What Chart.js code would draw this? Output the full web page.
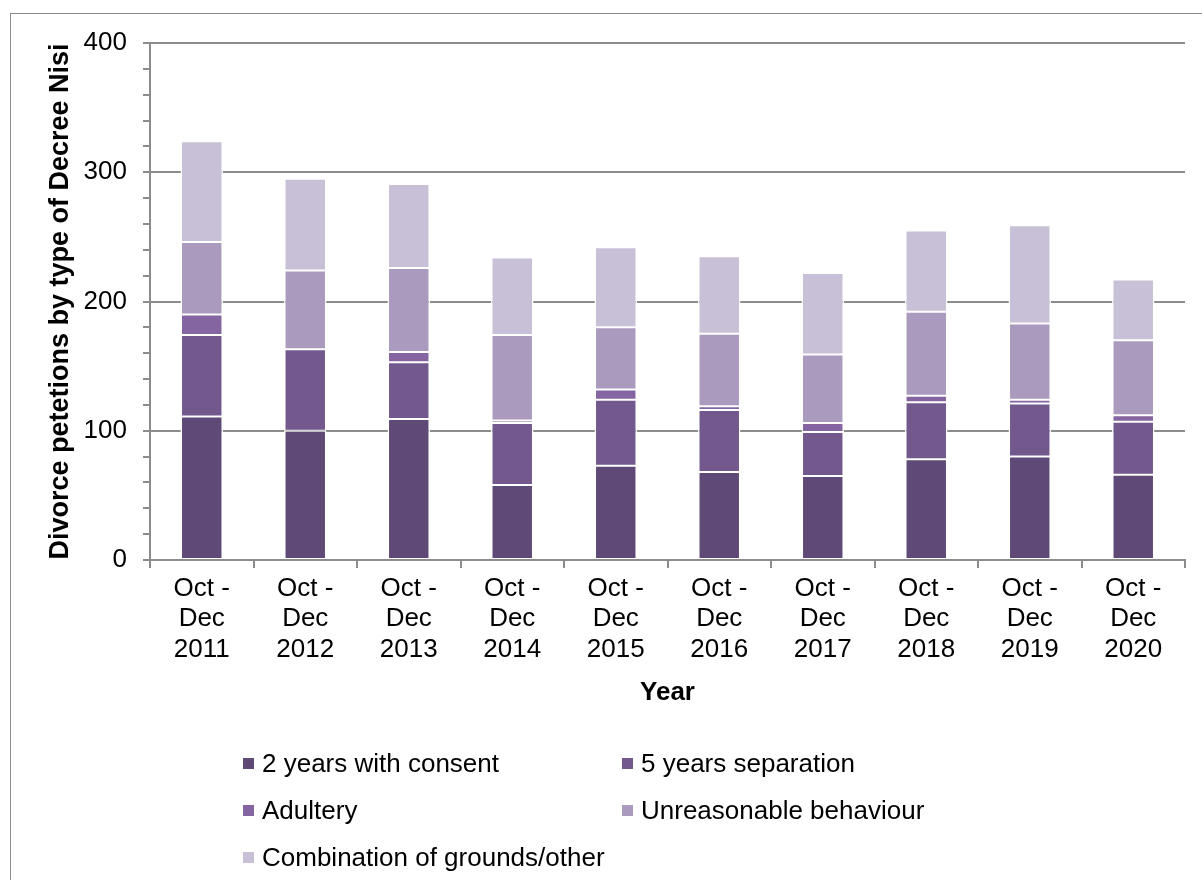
<!DOCTYPE html>
<html>
<head>
<meta charset="utf-8">
<script src="https://cdn.jsdelivr.net/npm/chart.js@4.4.0/dist/chart.umd.min.js"></script>
<style>
  html, body { margin: 0; padding: 0; background: #fff; }
  #wrap { position: relative; width: 1202px; height: 880px; overflow: hidden; }
  #frame { position: absolute; left: 10px; top: 13px; width: 1300px; height: 1000px; border: 1.5px solid #8c8c8c; }
  #chart { position: absolute; left: 0; top: 0; }
  #legend { position: absolute; left: 243px; top: 748px; display: grid; grid-template-columns: 379px 379px; row-gap: 17px;
            font: 26px "Liberation Sans", Arial, sans-serif; color: #000; }
  #legend .item { display: flex; align-items: center; line-height: 30px; white-space: nowrap; }
  #legend .box { width: 11px; height: 11px; margin-right: 8px; }
</style>
</head>
<body>
<div id="wrap">
  <div id="frame"></div>
  <canvas id="chart" width="1202" height="880"></canvas>
  <div id="legend"></div>
</div>
<script>
const years = ['2011', '2012', '2013', '2014', '2015', '2016', '2017', '2018', '2019', '2020'];
const consent2 = [111, 100, 109, 58, 73, 68, 65, 78, 80, 66];
const separation5 = [63, 63, 44, 48, 51, 48, 34, 44, 41, 41];
const adultery = [16, 0, 8, 2, 8, 3, 7, 5, 3, 5];
const unreasonable = [56, 61, 65, 66, 48, 56, 53, 65, 59, 58];
const combination = [78, 71, 65, 60, 62, 60, 63, 63, 76, 47];
const yTicks = [0, 100, 200, 300, 400];

const gridGrey = '#8c8c8c';
const font = '"Liberation Sans", Arial, sans-serif';

function series(label, data, color) {
  return {
    label: label,
    data: data,
    backgroundColor: color,
    borderColor: '#ffffff',
    borderWidth: { top: 1, bottom: 1, left: 1.5, right: 1.5 },
    borderSkipped: false,
    inflateAmount: 0,
    barPercentage: 0.41,
    categoryPercentage: 1
  };
}

const chart = new Chart(document.getElementById('chart'), {
  type: 'bar',
  data: {
    labels: years.map(y => ['Oct -', 'Dec', y]),
    datasets: [
      series('2 years with consent', consent2, '#5f4a77'),
      series('5 years separation', separation5, '#72588c'),
      series('Adultery', adultery, '#8464a1'),
      series('Unreasonable behaviour', unreasonable, '#aa9abe'),
      series('Combination of grounds/other', combination, '#c8c0d6')
    ]
  },
  options: {
    responsive: false,
    animation: false,
    layout: { padding: { left: 0, top: 43, right: 17, bottom: 0 } },
    plugins: {
      legend: { display: false },
      tooltip: { enabled: false }
    },
    scales: {
      x: {
        stacked: true,
        afterFit: s => { s.height = 320; },
        grid: { drawOnChartArea: false, drawTicks: true, tickLength: 8, color: gridGrey, lineWidth: 2, offset: true },
        border: { color: gridGrey, width: 2 },
        ticks: { color: '#000', font: { family: font, size: 26, lineHeight: 1.18 }, maxRotation: 0, autoSkip: false, padding: 5 },
        title: { display: true, text: 'Year', color: '#000', font: { family: font, size: 26, weight: 'bold' }, padding: { top: 0, bottom: 172 } }
      },
      y: {
        stacked: true,
        min: 0,
        max: 400,
        afterFit: s => { s.width = 150; },
        grid: {
          color: c => yTicks.includes(c.tick.value) ? gridGrey : 'rgba(0,0,0,0)',
          tickColor: gridGrey,
          lineWidth: 2,
          tickLength: 7
        },
        border: { color: gridGrey, width: 2 },
        ticks: {
          stepSize: 20,
          maxTicksLimit: 100,
          autoSkip: false,
          color: '#000',
          padding: 16,
          font: { family: font, size: 26 },
          callback: v => yTicks.includes(v) ? v : ''
        },
        title: { display: true, text: 'Divorce petetions by type of Decree Nisi', color: '#000',
                 font: { family: font, size: 27, weight: 'bold' }, padding: { top: 44, bottom: 0 } }
      }
    }
  }
});

// legend in two columns, built from the datasets
const legend = document.getElementById('legend');
chart.data.datasets.forEach(ds => {
  const item = document.createElement('div');
  item.className = 'item';
  item.innerHTML = '<span class="box" style="background:' + ds.backgroundColor + '"></span><span>' + ds.label + '</span>';
  legend.appendChild(item);
});
</script>
</body>
</html>
